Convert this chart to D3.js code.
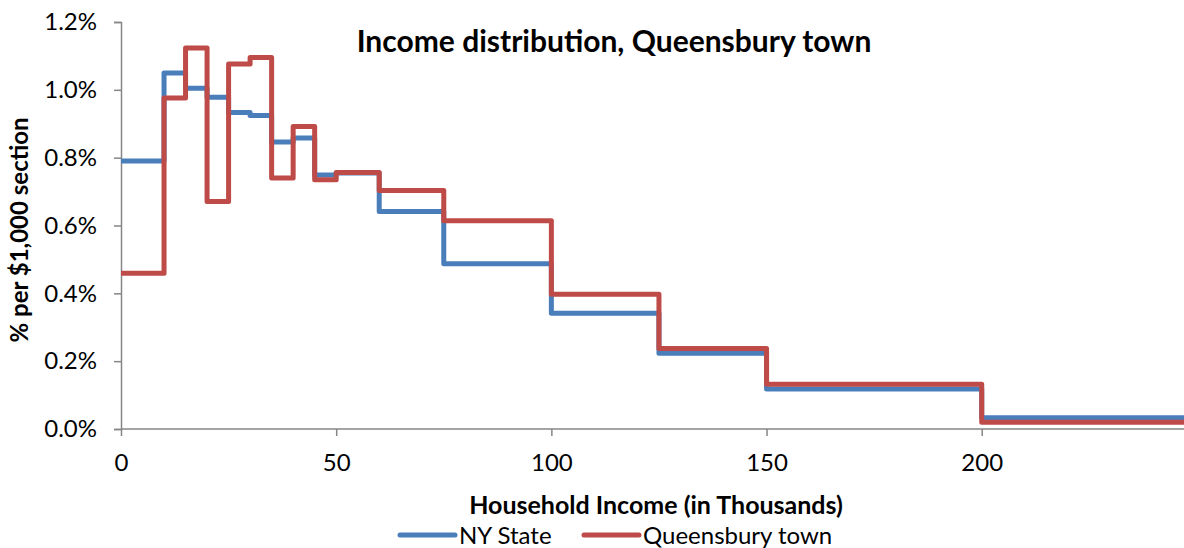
<!DOCTYPE html>
<html>
<head>
<meta charset="utf-8">
<script src="https://cdn.jsdelivr.net/npm/d3@7"></script>
<style>
  body { margin: 0; background: #fff; }
  svg { font-family: Lato, "Open Sans", sans-serif; }
</style>
</head>
<body>
<svg id="chart" width="1184" height="548"></svg>
<script>
// bracket lower bounds in thousands; last bracket runs to the right edge
const bracketStarts = [0, 10, 15, 20, 25, 30, 35, 40, 45, 50, 60, 75, 100, 125, 150, 200];
const bracketEnd = 250;
const nyState = [0.79, 1.05, 1.005, 0.978, 0.933, 0.924, 0.846, 0.858, 0.749, 0.755, 0.641, 0.487, 0.341, 0.223, 0.118, 0.033];
const queensbury = [0.459, 0.976, 1.123, 0.671, 1.076, 1.095, 0.740, 0.892, 0.735, 0.756, 0.703, 0.614, 0.397, 0.237, 0.132, 0.020];
const xTicks = [0, 50, 100, 150, 200];
const yTicks = [0, 0.2, 0.4, 0.6, 0.8, 1.0, 1.2];

const svg = d3.select('#chart');
const plotLeft = 121, plotRight = 1184, plotTop = 22, plotBottom = 429;

const x = d3.scaleLinear().domain([0, 247]).range([plotLeft, plotRight]);
const y = d3.scaleLinear().domain([0, 1.2]).range([plotBottom, plotTop]);

svg.append('defs').append('clipPath').attr('id', 'plot')
  .append('rect').attr('x', plotLeft - 3).attr('y', 0).attr('width', plotRight - plotLeft + 3).attr('height', plotBottom + 3);

// axes
const yAxis = svg.append('g')
  .attr('transform', `translate(${plotLeft},0)`)
  .call(d3.axisLeft(y).tickValues(yTicks).tickSize(7).tickPadding(10).tickFormat(d => d.toFixed(1) + '%'));
const xAxis = svg.append('g')
  .attr('transform', `translate(0,${plotBottom})`)
  .call(d3.axisBottom(x).tickValues(xTicks).tickSize(7).tickPadding(18));
xAxis.select('.domain').attr('d', `M${plotLeft},0H${plotRight}`);
[xAxis, yAxis].forEach(g => {
  g.selectAll('.domain, line').attr('stroke', '#868686').attr('stroke-width', 1.5);
  g.selectAll('text').attr('font-size', 24).attr('fill', '#000').attr('font-family', 'Lato, sans-serif');
});
yAxis.selectAll('text').attr('dx', -7);

function stepPoints(vals) {
  const pts = bracketStarts.map((b, i) => [b, vals[i]]);
  pts.push([bracketEnd, vals[vals.length - 1]]);
  return pts;
}
const line = d3.line().x(d => x(d[0])).y(d => y(d[1])).curve(d3.curveStepAfter);

const series = [
  { name: 'NY State', vals: nyState, color: '#4a7ebb' },
  { name: 'Queensbury town', vals: queensbury, color: '#be4b48' }
];

const plot = svg.append('g').attr('clip-path', 'url(#plot)');
series.forEach(s => {
  plot.append('path')
    .attr('d', line(stepPoints(s.vals)))
    .attr('fill', 'none')
    .attr('stroke', s.color)
    .attr('stroke-width', 5)
    .attr('stroke-linejoin', 'round');
});

// title
svg.append('text').attr('x', 614).attr('y', 52).attr('text-anchor', 'middle')
  .attr('font-size', 30).attr('font-weight', 'bold').text('Income distribution, Queensbury town');

// axis titles
svg.append('text').attr('x', 656).attr('y', 514).attr('text-anchor', 'middle')
  .attr('font-size', 25).attr('font-weight', 'bold').text('Household Income (in Thousands)');
svg.append('text').attr('transform', 'translate(28,230) rotate(-90)').attr('text-anchor', 'middle')
  .attr('font-size', 24).attr('font-weight', 'bold').text('% per $1,000 section');

// legend
const legendX = [400, 584];
series.forEach((s, i) => {
  const g = svg.append('g').attr('transform', `translate(${legendX[i]},535)`);
  g.append('line').attr('x1', 0).attr('x2', 55).attr('y1', 0).attr('y2', 0)
    .attr('stroke', s.color).attr('stroke-width', 5).attr('stroke-linecap', 'round');
  g.append('text').attr('x', 59).attr('y', 9).attr('font-size', 24).text(s.name);
});
</script>
</body>
</html>
